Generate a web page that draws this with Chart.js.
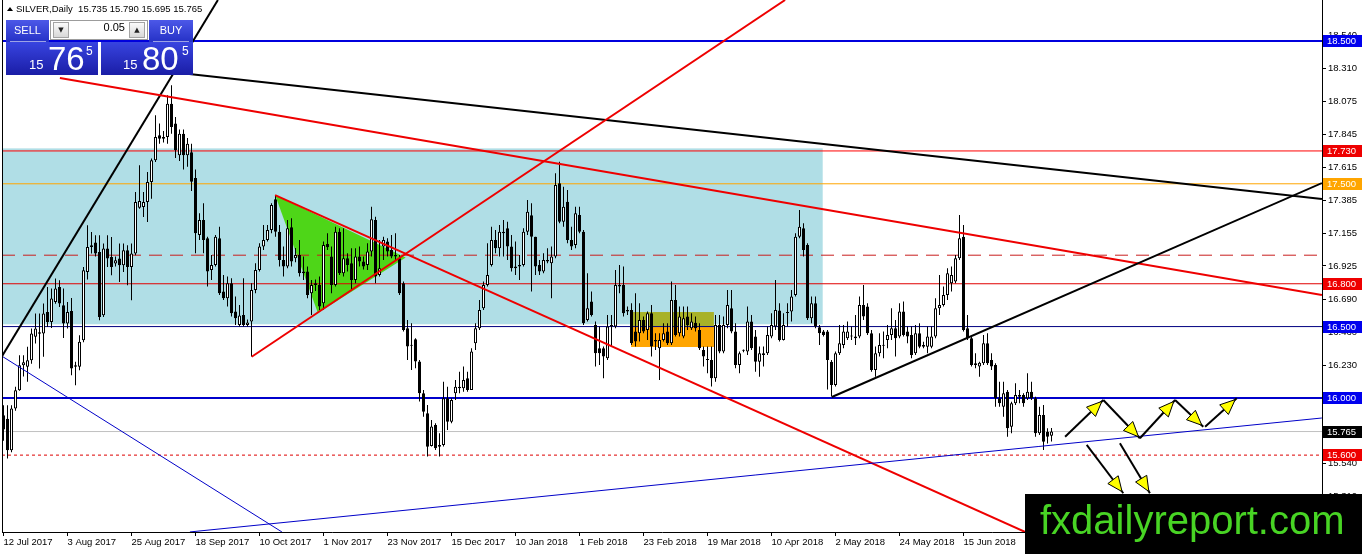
<!DOCTYPE html>
<html>
<head>
<meta charset="utf-8">
<script src="https://cdn.jsdelivr.net/npm/chart.js@4.4.1/dist/chart.umd.min.js"></script>
<style>
html, body { margin: 0; padding: 0; background: #fff; }
#wrap { position: relative; width: 1362px; height: 554px; overflow: hidden; }
#c { position: absolute; left: 0; top: 0; }
.ttl { position: absolute; left: 16px; top: 3px; font: 9.5px "Liberation Sans"; color: #000; white-space: pre; }
.tri { position: absolute; left: 7px; top: 7px; width: 0; height: 0; border-left: 3px solid transparent; border-right: 3px solid transparent; border-bottom: 4px solid #000; }
.btn { position: absolute; background: linear-gradient(#4c58e8, #2531c6); color: #fff; font: 11px "Liberation Sans"; text-align: center; }
.spin { position: absolute; background: #fff; border: 1px solid #9c9c9c; box-sizing: border-box; }
.sb { position: absolute; top: 1px; width: 16px; height: 16px; box-sizing: border-box; background: linear-gradient(#fbfbfb, #d8d8d8); border: 1px solid #a4a4a4; font: 7px "DejaVu Sans"; text-align: center; line-height: 14px; color: #222; }
.val { position: absolute; right: 22px; top: 0; line-height: 18px; font: 11px "Liberation Sans"; color: #000; }
.big { position: absolute; background: linear-gradient(#3844e0, #1a1da6); color: #fff; font-family: "Liberation Sans"; }
.big span { position: absolute; line-height: 1; white-space: nowrap; }
.sep { position: absolute; height: 1px; background: rgba(255,255,255,0.55); }
</style>
</head>
<body>
<div id="wrap">
  <canvas id="c" width="1362" height="554"></canvas>
  <div class="tri"></div>
  <div class="ttl">SILVER,Daily  15.735 15.790 15.695 15.765</div>

  <div class="big" style="left:6px;top:42px;width:92px;height:33px">
    <span style="left:23px;top:16px;font-size:13px">15</span>
    <span style="left:42px;top:0px;font-size:33px">76</span>
    <span style="left:80px;top:3px;font-size:12px">5</span>
  </div>
  <div class="big" style="left:101px;top:42px;width:92px;height:33px">
    <span style="left:22px;top:16px;font-size:13px">15</span>
    <span style="left:41px;top:0px;font-size:33px">80</span>
    <span style="left:81px;top:3px;font-size:12px">5</span>
  </div>
  <div class="btn" style="left:6px;top:20px;width:43px;height:22px;line-height:21px">SELL</div>
  <div class="sep" style="left:10px;top:41px;width:36px"></div>
  <div class="spin" style="left:50px;top:20px;width:98px;height:20px">
    <div class="sb" style="left:2px">&#9660;</div>
    <div class="val">0.05</div>
    <div class="sb" style="right:2px">&#9650;</div>
  </div>
  <div class="btn" style="left:149px;top:20px;width:44px;height:22px;line-height:21px">BUY</div>
  <div class="sep" style="left:153px;top:41px;width:36px"></div>
</div>
<script>
// date labels, one every 16 daily bars
const tickLabels = ['12 Jul 2017', '3 Aug 2017', '25 Aug 2017', '18 Sep 2017', '10 Oct 2017', '1 Nov 2017',
	'23 Nov 2017', '15 Dec 2017', '10 Jan 2018', '1 Feb 2018', '23 Feb 2018', '19 Mar 2018',
	'10 Apr 2018', '2 May 2018', '24 May 2018', '15 Jun 2018'];
const barsPerLabel = 16;

const yTicks = [18.540, 18.310, 18.075, 17.845, 17.615, 17.385, 17.155, 16.925, 16.690, 16.460,
	16.230, 16.000, 15.770, 15.540, 15.310];

// SILVER daily candles
const opens = [
	15.88, 15.855, 15.634, 15.926, 16.054, 16.23, 16.218, 16.264, 16.428, 16.46,
	16.451, 16.603, 16.532, 16.673, 16.778, 16.65, 16.521, 16.61, 16.229, 16.218,
	16.404, 16.883, 17.058, 17.088, 17.023, 16.579, 17.046, 16.988, 16.941, 16.976,
	16.929, 17.034, 16.918, 17.011, 17.333, 17.338, 17.373, 17.513, 17.665, 17.84,
	17.816, 17.828, 18.061, 17.922, 17.70, 17.85, 17.70, 17.72, 17.54, 17.141,
	17.246, 17.118, 16.896, 16.931, 17.118, 16.745, 16.698, 16.803, 16.605, 16.511,
	16.581, 16.511, 16.535, 16.756, 16.896, 17.06, 17.106, 17.176, 17.391, 17.165,
	16.966, 16.92, 17.195, 16.978, 17.001, 16.885, 16.885, 16.733, 16.803, 16.791,
	16.663, 17.078, 16.99, 16.791, 17.165, 16.873, 16.978, 16.943, 16.826, 16.99,
	16.955, 16.931, 17.025, 17.246, 16.861, 17.06, 17.095, 17.036, 17.001, 16.978,
	16.803, 16.488, 16.371, 16.411, 16.255, 16.033, 15.893, 15.664, 15.811, 15.659,
	15.671, 15.998, 15.834, 16.033, 16.068, 16.068, 16.138, 16.056, 16.383, 16.488,
	16.628, 16.791, 16.931, 17.107, 17.048, 17.153, 17.188, 17.06, 16.908, 16.92,
	16.931, 17.165, 17.28, 17.13, 16.931, 16.885, 16.955, 16.943, 16.99, 17.503,
	17.235, 17.375, 17.107, 17.071, 17.282, 17.165, 16.546, 16.675, 16.511, 16.348,
	16.348, 16.278, 16.5, 16.5, 16.791, 16.791, 16.616, 16.616, 16.465, 16.453,
	16.546, 16.476, 16.593, 16.406, 16.348, 16.406, 16.465, 16.383, 16.686, 16.453,
	16.43, 16.57, 16.488, 16.527, 16.476, 16.336, 16.271, 16.266, 16.138, 16.511,
	16.325, 16.511, 16.628, 16.465, 16.231, 16.336, 16.325, 16.535, 16.43, 16.254,
	16.313, 16.313, 16.43, 16.5, 16.612, 16.406, 16.598, 16.605, 16.721, 17.13,
	17.188, 17.071, 16.558, 16.663, 16.495, 16.465, 16.465, 16.254, 16.091, 16.313,
	16.371, 16.418, 16.43, 16.418, 16.43, 16.651, 16.64, 16.453, 16.196, 16.313,
	16.37, 16.406, 16.441, 16.488, 16.43, 16.605, 16.465, 16.441, 16.313, 16.453,
	16.371, 16.359, 16.359, 16.43, 16.628, 16.651, 16.721, 16.803, 16.815, 16.978,
	17.13, 16.488, 16.418, 16.243, 16.22, 16.243, 16.383, 16.266, 16.231, 15.998,
	15.939, 16.044, 15.799, 15.963, 16.009, 16.021, 15.998, 16.044, 15.998, 15.753,
	15.881, 15.764, 15.735];
const highs = [
	15.95, 15.949, 15.95, 16.078, 16.299, 16.30, 16.358, 16.486, 16.591, 16.591,
	16.661, 16.778, 16.766, 16.836, 16.824, 16.766, 16.673, 16.70, 16.253, 16.44,
	16.918, 17.21, 17.163, 17.14, 17.14, 17.081, 17.14, 17.128, 16.99, 17.081,
	17.081, 17.07, 17.081, 17.443, 17.63, 17.443, 17.583, 17.677, 17.98, 17.922,
	17.87, 18.12, 18.19, 17.968, 17.88, 17.88, 17.82, 17.78, 17.60, 17.293,
	17.363, 17.13, 17.001, 17.141, 17.2, 16.861, 16.85, 16.838, 16.71, 16.651,
	16.838, 16.55, 16.803, 16.943, 17.083, 17.211, 17.211, 17.363, 17.421, 17.211,
	17.06, 17.246, 17.258, 17.05, 17.106, 16.99, 16.92, 16.826, 16.83, 16.85,
	17.095, 17.153, 17.06, 17.2, 17.188, 17.188, 17.013, 17.048, 17.048, 17.06,
	16.99, 17.083, 17.34, 17.27, 17.107, 17.13, 17.118, 17.142, 17.153, 17.001,
	16.815, 16.546, 16.523, 16.418, 16.266, 16.056, 15.951, 15.846, 15.823, 15.753,
	16.114, 16.079, 15.998, 16.126, 16.184, 16.22, 16.184, 16.348, 16.523, 16.686,
	16.815, 17.083, 17.2, 17.177, 17.211, 17.246, 17.235, 17.142, 17.095, 17.001,
	17.188, 17.387, 17.363, 17.13, 16.966, 17.013, 17.048, 17.06, 17.573, 17.655,
	17.48, 17.457, 17.2, 17.34, 17.34, 17.177, 16.873, 16.745, 16.535, 16.5,
	16.36, 16.581, 16.581, 16.896, 16.931, 16.92, 16.64, 16.663, 16.733, 16.663,
	16.57, 16.605, 16.651, 16.453, 16.453, 16.523, 16.523, 16.815, 16.791, 16.64,
	16.64, 16.64, 16.593, 16.57, 16.523, 16.36, 16.36, 16.36, 16.581, 16.581,
	16.57, 16.756, 16.756, 16.523, 16.325, 16.34, 16.64, 16.581, 16.476, 16.36,
	16.36, 16.5, 16.593, 16.826, 16.663, 16.593, 16.663, 16.756, 17.153, 17.317,
	17.223, 17.083, 16.71, 16.71, 16.511, 16.476, 16.476, 16.266, 16.325, 16.511,
	16.511, 16.535, 16.5, 16.581, 16.71, 16.791, 16.663, 16.476, 16.36, 16.453,
	16.465, 16.511, 16.628, 16.546, 16.663, 16.675, 16.5, 16.5, 16.511, 16.523,
	16.394, 16.5, 16.5, 16.698, 16.861, 16.78, 16.908, 16.92, 17.001, 17.281,
	17.211, 16.581, 16.43, 16.313, 16.254, 16.441, 16.453, 16.313, 16.243, 16.114,
	16.114, 16.056, 15.974, 16.103, 16.056, 16.033, 16.173, 16.114, 16.009, 15.939,
	15.951, 15.788, 15.79];
const lows = [
	15.70, 15.576, 15.62, 15.91, 16.05, 16.15, 16.113, 16.24, 16.381, 16.206,
	16.288, 16.498, 16.49, 16.66, 16.638, 16.42, 16.486, 16.159, 16.089, 16.194,
	16.39, 16.83, 17.011, 16.99, 16.545, 16.568, 16.918, 16.859, 16.92, 16.813,
	16.883, 16.789, 16.684, 16.999, 17.326, 17.268, 17.233, 17.396, 17.653, 17.781,
	17.79, 17.781, 17.851, 17.68, 17.66, 17.60, 17.62, 17.45, 17.013, 17.106,
	17.013, 16.78, 16.826, 16.92, 16.721, 16.686, 16.64, 16.57, 16.511, 16.50,
	16.50, 16.50, 16.29, 16.733, 16.885, 17.036, 17.095, 17.153, 17.13, 16.92,
	16.85, 16.908, 16.92, 16.95, 16.85, 16.826, 16.698, 16.581, 16.75, 16.616,
	16.616, 17.036, 16.733, 16.78, 16.861, 16.85, 16.885, 16.756, 16.803, 16.92,
	16.90, 16.896, 16.99, 16.803, 16.85, 16.966, 16.99, 16.978, 16.966, 16.721,
	16.465, 16.266, 16.196, 16.208, 15.975, 15.869, 15.59, 15.66, 15.636, 15.59,
	15.66, 15.776, 15.823, 15.986, 16.033, 16.044, 16.044, 16.056, 16.336, 16.476,
	16.616, 16.78, 16.92, 17.013, 16.99, 16.99, 16.966, 16.885, 16.861, 16.826,
	16.92, 17.142, 16.745, 16.861, 16.861, 16.873, 16.943, 16.698, 16.978, 17.223,
	17.2, 17.083, 17.036, 17.048, 17.153, 16.511, 16.535, 16.57, 16.22, 16.231,
	16.138, 16.266, 16.36, 16.488, 16.733, 16.57, 16.581, 16.371, 16.36, 16.395,
	16.453, 16.406, 16.29, 16.336, 16.126, 16.395, 16.371, 16.371, 16.43, 16.43,
	16.418, 16.476, 16.476, 16.465, 16.336, 16.22, 16.173, 16.08, 16.114, 16.313,
	16.313, 16.488, 16.453, 16.208, 16.173, 16.32, 16.301, 16.336, 16.184, 16.149,
	16.22, 16.301, 16.418, 16.476, 16.395, 16.402, 16.5, 16.535, 16.71, 17.118,
	16.99, 16.546, 16.523, 16.488, 16.371, 16.43, 16.06, 16.01, 16.08, 16.301,
	16.348, 16.406, 16.406, 16.371, 16.418, 16.546, 16.441, 16.184, 16.149, 16.29,
	16.278, 16.348, 16.406, 16.29, 16.418, 16.43, 16.383, 16.278, 16.301, 16.348,
	16.348, 16.313, 16.348, 16.418, 16.581, 16.64, 16.686, 16.745, 16.803, 16.966,
	16.465, 16.406, 16.22, 16.208, 16.149, 16.231, 16.231, 16.196, 15.939, 15.939,
	15.869, 15.729, 15.753, 15.951, 15.963, 15.939, 15.986, 15.986, 15.729, 15.741,
	15.636, 15.682, 15.695];
const closes = [
	15.78, 15.634, 15.926, 16.054, 16.229, 16.25, 16.264, 16.451, 16.486, 16.45,
	16.591, 16.532, 16.696, 16.766, 16.661, 16.521, 16.603, 16.206, 16.218, 16.393,
	16.894, 17.058, 17.07, 17.011, 16.568, 17.046, 16.976, 16.918, 16.964, 16.929,
	17.034, 16.918, 17.011, 17.373, 17.38, 17.373, 17.513, 17.665, 17.828, 17.816,
	17.828, 18.061, 17.898, 17.735, 17.85, 17.70, 17.78, 17.515, 17.153, 17.246,
	17.106, 16.885, 16.931, 17.13, 16.733, 16.698, 16.803, 16.593, 16.558, 16.577,
	16.511, 16.528, 16.756, 16.896, 17.06, 17.106, 17.176, 17.351, 17.165, 16.966,
	16.92, 17.188, 16.955, 17.001, 16.873, 16.873, 16.721, 16.791, 16.791, 16.64,
	17.071, 17.055, 16.791, 17.165, 16.873, 16.978, 16.931, 16.826, 16.99, 16.955,
	16.92, 17.025, 17.251, 16.85, 16.908, 17.107, 17.025, 16.99, 16.99, 16.733,
	16.476, 16.36, 16.366, 16.255, 16.033, 15.904, 15.659, 15.80, 15.648, 15.671,
	15.998, 15.834, 15.986, 16.079, 16.079, 16.126, 16.056, 16.325, 16.488, 16.616,
	16.791, 16.861, 17.107, 17.048, 17.165, 17.165, 17.06, 16.908, 16.92, 16.931,
	17.165, 17.305, 17.13, 16.92, 16.885, 16.966, 16.966, 16.99, 17.492, 17.235,
	17.34, 17.107, 17.06, 17.293, 17.165, 16.523, 16.628, 16.581, 16.313, 16.313,
	16.29, 16.5, 16.511, 16.791, 16.78, 16.593, 16.605, 16.383, 16.395, 16.546,
	16.465, 16.593, 16.36, 16.395, 16.406, 16.453, 16.383, 16.686, 16.441, 16.57,
	16.558, 16.511, 16.535, 16.488, 16.348, 16.29, 16.266, 16.138, 16.511, 16.325,
	16.511, 16.651, 16.465, 16.231, 16.313, 16.33, 16.535, 16.348, 16.254, 16.313,
	16.301, 16.441, 16.511, 16.616, 16.406, 16.511, 16.595, 16.71, 17.13, 17.2,
	17.036, 16.558, 16.663, 16.5, 16.453, 16.441, 16.266, 16.091, 16.313, 16.383,
	16.465, 16.465, 16.43, 16.43, 16.651, 16.57, 16.453, 16.196, 16.313, 16.371,
	16.366, 16.441, 16.488, 16.418, 16.605, 16.441, 16.43, 16.301, 16.453, 16.359,
	16.359, 16.43, 16.43, 16.628, 16.651, 16.721, 16.873, 16.861, 16.978, 17.118,
	16.476, 16.418, 16.231, 16.231, 16.247, 16.383, 16.243, 16.22, 15.998, 15.963,
	16.033, 15.788, 15.963, 16.021, 16.021, 15.963, 16.044, 15.998, 15.753, 15.881,
	15.694, 15.729, 15.765];

// horizontal levels (price) and the label shown in the price scale
const levelPrices = [18.5, 17.73, 17.5, 17.0, 16.8, 16.5, 16.0, 15.765, 15.6];
const levelStyles = [
	{color: '#0000dd', width: 2, box: '#0000ee'},
	{color: '#ff0000', width: 1, box: '#ee0000'},
	{color: '#ffa500', width: 1, box: '#ffa500'},
	{color: '#c81e1e', width: 1, dash: [13, 8]},
	{color: '#e00000', width: 1, box: '#ee0000'},
	{color: '#000080', width: 1, box: '#0000ee'},
	{color: '#0000cc', width: 2, box: '#0000ee'},
	{color: '#c0c0c0', width: 1, box: '#000000'},
	{color: '#dd0000', width: 1, dash: [3, 3], box: '#ee0000'}
];

// trend lines as [bar, price, bar, price]
const trendLines = [
	[-0.45, 16.289, 53.6, 18.787],
	[41.9, 18.283, 329.6, 17.393],
	[14.1, 18.241, 329.6, 16.721],
	[62.05, 16.289, 195.4, 18.787],
	[67.9, 17.421, 255.4, 15.062],
	[207.1, 16.007, 329.6, 17.505],
	[46.6, 15.062, 329.6, 15.860],
	[-0.45, 16.294, 69.6, 15.062]
];
const trendStyles = [
	{color: '#000', width: 2}, {color: '#000', width: 2},
	{color: '#ee0000', width: 2}, {color: '#ee0000', width: 2}, {color: '#ee0000', width: 2},
	{color: '#000', width: 2},
	{color: '#0000c8', width: 1}, {color: '#0000c8', width: 1}
];

// zones: [bar from, bar to, price top, price bottom]
const rangeBox = [-0.375, 204.8, 17.748, 16.516];
const oliveBox = [156.9, 177.6, 16.602, 16.497];
const orangeBox = [156.9, 177.6, 16.497, 16.357];
const wedge = [[67.9, 17.421], [78.6, 16.595], [100.55, 16.984]];

// projected path
const arrows = [
	[265.4, 15.729, 274.95, 15.986],
	[274.95, 15.986, 284.1, 15.718],
	[284.1, 15.718, 292.9, 15.986],
	[292.9, 15.986, 299.95, 15.799],
	[300.4, 15.799, 308.3, 15.998],
	[270.8, 15.671, 279.95, 15.333],
	[279.1, 15.683, 286.6, 15.333]
];

Chart.defaults.font.family = 'Liberation Sans';

var idx = opens.map((_, i) => i);
var bodyData = idx.map(i => ({x: i, y: [opens[i], closes[i]]}));
var wickData = idx.map(i => ({x: i, y: [lows[i], highs[i]]}));

function drawArrow(ctx, x0, y0, x1, y1)
{
	var a = Math.atan2(y1 - y0, x1 - x0);
	var tx = x1 - 2 * Math.cos(a), ty = y1 - 2 * Math.sin(a);
	var bx = tx - 15 * Math.cos(a), by = ty - 15 * Math.sin(a);
	var w = 6.5;
	ctx.strokeStyle = '#000';
	ctx.lineWidth = 2;
	ctx.beginPath();
	ctx.moveTo(x0, y0);
	ctx.lineTo(x1, y1);
	ctx.stroke();
	ctx.beginPath();
	ctx.moveTo(tx, ty);
	ctx.lineTo(bx + w * Math.sin(a), by - w * Math.cos(a));
	ctx.lineTo(bx - w * Math.sin(a), by + w * Math.cos(a));
	ctx.closePath();
	ctx.fillStyle = '#ffff00';
	ctx.fill();
	ctx.lineWidth = 1;
	ctx.stroke();
}

const overlay = {
	id: 'overlay',
	beforeDatasetsDraw(chart)
	{
		const ctx = chart.ctx, area = chart.chartArea;
		const X = v => chart.scales.x.getPixelForValue(v);
		const Y = v => chart.scales.y.getPixelForValue(v);
		ctx.save();
		ctx.beginPath();
		ctx.rect(area.left, area.top, area.right - area.left, area.bottom - area.top);
		ctx.clip();

		ctx.fillStyle = 'rgb(176,222,230)';
		ctx.fillRect(X(rangeBox[0]), Y(rangeBox[2]), X(rangeBox[1]) - X(rangeBox[0]), Y(rangeBox[3]) - Y(rangeBox[2]));

		ctx.fillStyle = 'rgb(78,214,24)';
		ctx.beginPath();
		wedge.forEach((p, k) => k ? ctx.lineTo(X(p[0]), Y(p[1])) : ctx.moveTo(X(p[0]), Y(p[1])));
		ctx.closePath();
		ctx.fill();

		ctx.fillStyle = 'rgb(168,178,40)';
		ctx.fillRect(X(oliveBox[0]), Y(oliveBox[2]), X(oliveBox[1]) - X(oliveBox[0]), Y(oliveBox[3]) - Y(oliveBox[2]));
		ctx.fillStyle = 'rgb(255,165,0)';
		ctx.fillRect(X(orangeBox[0]), Y(orangeBox[2]), X(orangeBox[1]) - X(orangeBox[0]), Y(orangeBox[3]) - Y(orangeBox[2]));

		levelPrices.forEach((p, k) =>
		{
			const s = levelStyles[k];
			ctx.strokeStyle = s.color;
			ctx.lineWidth = s.width;
			ctx.setLineDash(s.dash || []);
			ctx.beginPath();
			ctx.moveTo(area.left, Y(p));
			ctx.lineTo(area.right, Y(p));
			ctx.stroke();
		});
		ctx.setLineDash([]);
		ctx.restore();
	},
	afterDatasetsDraw(chart)
	{
		const ctx = chart.ctx, area = chart.chartArea;
		const X = v => chart.scales.x.getPixelForValue(v);
		const Y = v => chart.scales.y.getPixelForValue(v);
		ctx.save();
		ctx.beginPath();
		ctx.rect(area.left, area.top, area.right - area.left, area.bottom - area.top);
		ctx.clip();
		trendLines.forEach((t, k) =>
		{
			ctx.strokeStyle = trendStyles[k].color;
			ctx.lineWidth = trendStyles[k].width;
			ctx.beginPath();
			ctx.moveTo(X(t[0]), Y(t[1]));
			ctx.lineTo(X(t[2]), Y(t[3]));
			ctx.stroke();
		});
		arrows.forEach(a => drawArrow(ctx, X(a[0]), Y(a[1]), X(a[2]), Y(a[3])));
		ctx.restore();
	},
	afterDraw(chart)
	{
		const ctx = chart.ctx, area = chart.chartArea;
		const Y = v => chart.scales.y.getPixelForValue(v);
		ctx.save();
		ctx.strokeStyle = '#000';
		ctx.lineWidth = 1;
		ctx.beginPath();
		ctx.moveTo(area.left + 0.5, area.top);
		ctx.lineTo(area.left + 0.5, area.bottom);
		ctx.stroke();

		ctx.font = '9.5px "Liberation Sans"';
		ctx.textBaseline = 'middle';
		levelPrices.forEach((p, k) =>
		{
			const s = levelStyles[k];
			if (!s.box)
				return;
			const y = Math.round(Y(p));
			ctx.fillStyle = s.box;
			ctx.fillRect(area.right + 1, y - 6, 1362 - area.right - 1, 12);
			ctx.fillStyle = '#fff';
			ctx.fillText(p.toFixed(3), area.right + 5, y + 0.5);
		});

		ctx.fillStyle = '#000';
		ctx.fillRect(1025, 494, 337, 60);
		ctx.fillStyle = '#48d424';
		ctx.font = '40px "Liberation Sans"';
		ctx.textBaseline = 'alphabetic';
		ctx.fillText('fxdailyreport.com', 1040, 534);
		ctx.restore();
	}
};

new Chart(document.getElementById('c'), {
	type: 'bar',
	data: {
		datasets: [
			{
				data: bodyData, order: 1, grouped: false, barThickness: 3, minBarLength: 1,
				borderWidth: 1, borderColor: '#000', borderSkipped: false, inflateAmount: 0,
				backgroundColor: idx.map(i => closes[i] >= opens[i] ? '#fff' : '#000')
			},
			{
				data: wickData, order: 2, grouped: false, barThickness: 1, borderWidth: 0,
				inflateAmount: 0, backgroundColor: '#000'
			}
		]
	},
	options: {
		responsive: false,
		animation: false,
		devicePixelRatio: 1,
		layout: {padding: {left: 2, top: 0, right: 0, bottom: 0}},
		plugins: {legend: {display: false}, tooltip: {enabled: false}},
		scales: {
			x: {
				type: 'linear', min: -0.375, max: 329.625, offset: false,
				grid: {drawOnChartArea: false, drawTicks: true, tickLength: 4, color: '#000', offset: false},
				border: {display: true, color: '#000', width: 1},
				ticks: {
					autoSkip: false, maxRotation: 0, minRotation: 0, align: 'start', padding: 1,
					color: '#000', font: {size: 9.5},
					callback: v => tickLabels[Math.round(v / barsPerLabel)] || ''
				},
				afterBuildTicks: s => { s.ticks = tickLabels.map((_, k) => ({value: k * barsPerLabel})); },
				afterFit: s => { s.height = 22; s.paddingLeft = 0; s.paddingRight = 0; }
			},
			y: {
				type: 'linear', position: 'right', min: 15.0616, max: 18.787,
				grid: {drawOnChartArea: false, drawTicks: true, tickLength: 4, color: '#000'},
				border: {display: true, color: '#000', width: 1},
				ticks: {padding: 2, color: '#000', font: {size: 9.5}, callback: v => v.toFixed(3)},
				afterBuildTicks: s => { s.ticks = yTicks.map(v => ({value: v})); },
				afterFit: s => { s.width = 40; s.paddingTop = 0; s.paddingBottom = 0; }
			}
		}
	},
	plugins: [overlay]
});
</script>
</body>
</html>
